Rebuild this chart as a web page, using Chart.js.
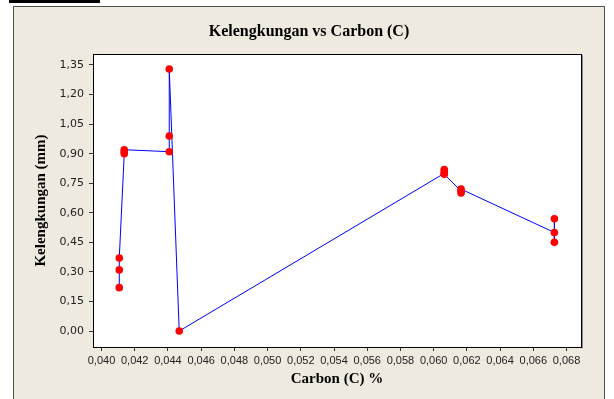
<!DOCTYPE html>
<html><head><meta charset="utf-8">
<script src="https://cdn.jsdelivr.net/npm/chart.js@4.4.1/dist/chart.umd.min.js"></script>
<style>html,body{margin:0;padding:0;background:#fff;}#wrap{position:relative;width:614px;height:399px;}</style>
</head><body><div id="wrap"><canvas id="c" width="614" height="399"></canvas></div>
<script>
// Data, in the order the line connects them
const carbon = [0.04107,0.04107,0.04107, 0.04137,0.04137,0.04137, 0.04408,0.04408,0.04408, 0.04468,
                0.06064,0.06064,0.06064,0.06064, 0.06165,0.06165,0.06165, 0.06727,0.06727,0.06727];
const kelengkungan = [0.22,0.31,0.37, 0.90,0.91,0.92, 0.91,0.99,1.33, 0.00,
                      0.80,0.82,0.81,0.795, 0.71,0.70,0.72, 0.50,0.57,0.45];
const xTickValues = [0.040,0.042,0.044,0.046,0.048,0.050,0.052,0.054,0.056,0.058,0.060,0.062,0.064,0.066,0.068];
const yTickValues = [0.00,0.15,0.30,0.45,0.60,0.75,0.90,1.05,1.20,1.35];
const chartTitle = 'Kelengkungan vs Carbon (C)';
const xTitle = 'Carbon (C) %';
const yTitle = 'Kelengkungan (mm)';

const points = carbon.map((c, i) => ({x: c, y: kelengkungan[i]}));
const fmt = (v, d) => v.toFixed(d).replace('.', ',');

const framePlugin = {
  id: 'frame',
  beforeDraw(chart) {
    const ctx = chart.ctx, a = chart.chartArea;
    ctx.save();
    ctx.fillStyle = '#ffffff'; ctx.fillRect(0, 0, chart.width, chart.height);
    ctx.fillStyle = '#000000'; ctx.fillRect(9, 0, 91, 3);
    ctx.fillStyle = '#EEEAE0'; ctx.fillRect(13.5, 6.5, 591, 400);
    ctx.strokeStyle = '#505050'; ctx.lineWidth = 1; ctx.strokeRect(13.5, 6.5, 591, 400);
    ctx.fillStyle = '#ffffff'; ctx.fillRect(a.left, a.top, a.right - a.left, a.bottom - a.top);
    ctx.restore();
  },
  afterDraw(chart) {
    const ctx = chart.ctx, a = chart.chartArea;
    ctx.save();
    ctx.strokeStyle = '#000000'; ctx.lineWidth = 1;
    ctx.strokeRect(Math.round(a.left) + 0.5, Math.round(a.top) + 0.5, Math.round(a.right - a.left), Math.round(a.bottom - a.top));
    ctx.strokeStyle = '#8a8a8a';
    ctx.beginPath();
    ctx.moveTo(Math.round(a.right) + 1.5, Math.round(a.top) + 1);
    ctx.lineTo(Math.round(a.right) + 1.5, Math.round(a.bottom) + 1.5);
    ctx.stroke();
    ctx.restore();
  }
};

new Chart(document.getElementById('c'), {
  type: 'scatter',
  data: {
    datasets: [{
      data: points,
      showLine: true,
      borderColor: '#0000FF',
      borderWidth: 1,
      pointRadius: 3.8,
      pointHoverRadius: 3.8,
      pointBackgroundColor: '#FF0000',
      pointBorderColor: '#FF0000',
      pointBorderWidth: 0,
      tension: 0
    }]
  },
  options: {
    responsive: false,
    animation: false,
    devicePixelRatio: 1,
    layout: {padding: {left: 4, right: 0, top: 0, bottom: 0}},
    plugins: {
      legend: {display: false},
      tooltip: {enabled: false},
      title: {
        display: true,
        text: chartTitle,
        color: '#000',
        font: {family: "'Liberation Serif', 'Times New Roman', serif", size: 16, weight: 'bold', lineHeight: 1.2},
        padding: {top: 22.4, bottom: 12.4}
      }
    },
    scales: {
      x: {
        type: 'linear',
        position: 'bottom',
        min: 0.039488,
        max: 0.068873,
        afterBuildTicks: s => { s.ticks = xTickValues.map(v => ({value: v})); },
        afterFit: s => { s.height = 52; },
        grid: {display: true, drawOnChartArea: false, drawTicks: true, tickLength: 4, color: '#333'},
        border: {display: false},
        ticks: {
          autoSkip: false, maxRotation: 0, padding: 3, color: '#222',
          font: {family: "'Liberation Sans Narrow', 'Liberation Sans', sans-serif", size: 11},
          callback: v => fmt(v, 3)
        },
        title: {
          display: true, text: xTitle, color: '#000',
          font: {family: "'Liberation Serif', serif", size: 15, weight: 'bold', lineHeight: 1.2},
          padding: {top: 0, bottom: 11}
        }
      },
      y: {
        type: 'linear',
        position: 'left',
        min: -0.0812,
        max: 1.4058,
        afterBuildTicks: s => { s.ticks = yTickValues.map(v => ({value: v})); },
        afterFit: s => { s.width = 89; },
        grid: {display: true, drawOnChartArea: false, drawTicks: true, tickLength: 4, color: '#333'},
        border: {display: false},
        ticks: {
          padding: 5, color: '#222',
          font: {family: "'DejaVu Sans', sans-serif", size: 11},
          callback: v => fmt(v, 2)
        },
        title: {
          display: true, text: yTitle, color: '#000',
          font: {family: "'Liberation Serif', serif", size: 15, weight: 'bold', lineHeight: 1.2},
          padding: {top: 28, bottom: 0}
        }
      },
      yRight: {
        type: 'linear',
        position: 'right',
        display: true,
        afterFit: s => { s.width = 33; },
        grid: {display: false},
        border: {display: false},
        ticks: {display: false},
        title: {display: false}
      }
    }
  },
  plugins: [framePlugin]
});
</script>
</body></html>
